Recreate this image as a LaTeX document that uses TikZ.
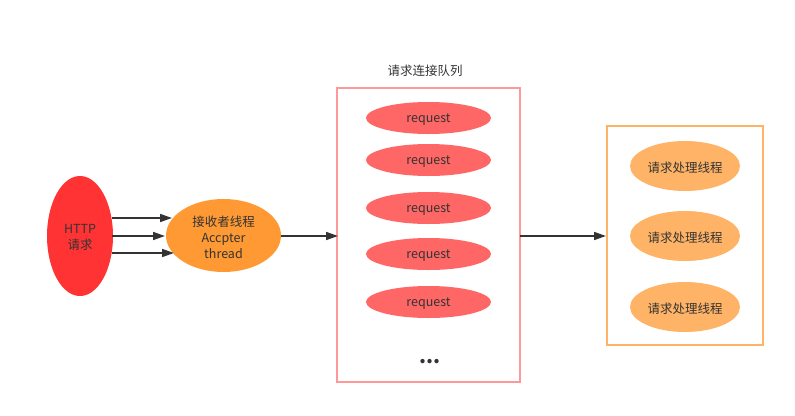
\documentclass[tikz,border=0pt]{standalone}
\usepackage{fontspec}
\setmainfont{Noto Sans CJK SC}
\usetikzlibrary{arrows.meta}
\definecolor{httpred}{HTML}{FF3333}
\definecolor{accorange}{HTML}{FF9933}
\definecolor{queuepink}{HTML}{FF9999}
\definecolor{reqred}{HTML}{FF6666}
\definecolor{throrange}{HTML}{FFB366}
\definecolor{txt}{HTML}{333333}
\begin{document}
\begin{tikzpicture}[x=1pt,y=-1pt,
  lbl/.style={font=\fontsize{12.5}{16}\selectfont, text=txt, yshift=-1.5pt},
  conn/.style={draw=txt, line width=1.6pt, -{Triangle[length=12pt,width=8pt]}},
]
\useasboundingbox (0,0) rectangle (795,415);
% HTTP
\fill[httpred] (80,236) ellipse [x radius=33, y radius=60];
\node[lbl, align=center] (http) at (80,236) {HTTP\\请求};
\coordinate (h1) at (112,218);
\coordinate (h2) at (112,236);
\coordinate (h3) at (112,253);
% acceptor
\fill[accorange] (223.5,235.5) ellipse [x radius=57.5, y radius=36.5];
\node[lbl, align=center] (acc) at (223.5,235.5) {接收者线程\\Accpter\\thread};
\coordinate (a1) at (172,218);
\coordinate (a2) at (165,236);
\coordinate (a3) at (174,253);
\coordinate (aR) at (281,236);
\draw[conn] (h1) -- (a1);
\draw[conn] (h2) -- (a2);
\draw[conn] (h3) -- (a3);
% queue
\draw[queuepink, line width=1.6pt] (337,88) rectangle (520,382);
\coordinate (qL) at (338,236);
\coordinate (qR) at (520,236);
\node[lbl] (qtitle) at (425,69) {请求连接队列};
\foreach \y [count=\i] in {118,160,208,254,302}{
  \fill[reqred] (428.5,\y) ellipse [x radius=62.5, y radius=16];
  \node[lbl] (r\i) at (428.5,\y) {request};
}
\node[font=\fontsize{20}{20}\bfseries, text=txt] (dots) at (430,362) {...};
\draw[conn] (aR) -- (qL);
% threads
\draw[throrange, line width=1.6pt] (607,126) rectangle (763,345);
\coordinate (tL) at (606,236);
\foreach \y [count=\i] in {166,236,307}{
  \fill[throrange] (685,\y) ellipse [x radius=55, y radius=25];
  \node[lbl] (t\i) at (685,\y) {请求处理线程};
}
\draw[conn] (qR) -- (tL);
\end{tikzpicture}
\end{document}
